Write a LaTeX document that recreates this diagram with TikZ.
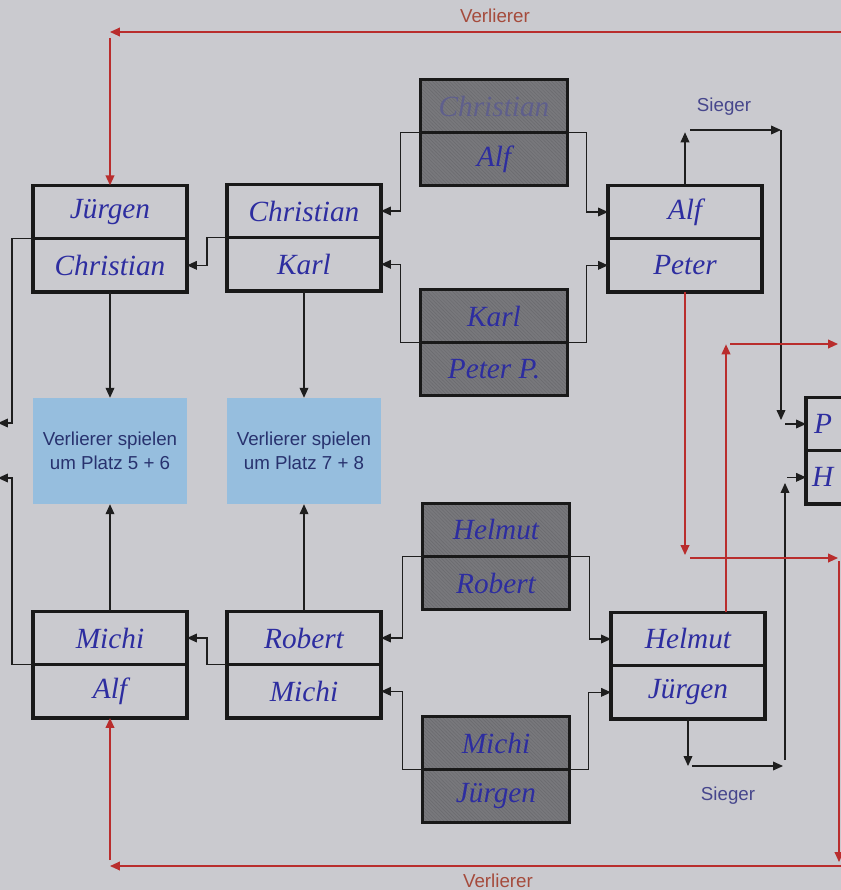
\documentclass[tikz,border=0pt]{standalone}
\usepackage{fontspec}
\setmainfont{Liberation Sans}
\newfontfamily\handfont{Liberation Serif}
\usetikzlibrary{positioning,calc,arrows.meta,patterns}

\definecolor{paper}{RGB}{202,202,207}
\definecolor{boxline}{RGB}{25,25,25}
\definecolor{ink}{RGB}{45,45,160}
\definecolor{faintink}{RGB}{95,95,140}
\definecolor{hatchgray}{RGB}{120,120,124}
\definecolor{hatchline}{RGB}{106,106,110}
\definecolor{infoblue}{RGB}{150,190,222}
\definecolor{infotext}{RGB}{40,50,110}
\definecolor{losered}{RGB}{185,45,45}
\definecolor{losetext}{RGB}{165,75,60}
\definecolor{wintext}{RGB}{70,70,140}
\definecolor{linkblack}{RGB}{30,30,30}

\begin{document}
\begin{tikzpicture}[x=0.03cm,y=-0.03cm,>={Triangle[length=8.5pt,width=7.5pt]},font=\fontsize{16}{20}\selectfont]
    \tikzset{
      hand/.style={font=\handfont\itshape\fontsize{25}{27}\selectfont, text=ink},
      slot/.style={hand, draw=boxline, line width=2.6pt, minimum width=4.62cm,
        minimum height=1.6cm, outer sep=0pt, inner sep=0pt},
      grayslot/.style={slot, minimum width=4.41cm, minimum height=1.59cm, fill=hatchgray,
        path picture={\fill[pattern=north west lines, pattern color=hatchline]
          (path picture bounding box.south west) rectangle (path picture bounding box.north east);}},
      infobox/.style={fill=infoblue, minimum width=4.62cm, minimum height=3.18cm,
        align=center, text=infotext},
      link/.style={->, draw=linkblack, line width=0.9pt},
      lose/.style={->, draw=losered, line width=1.2pt},
      tag/.style={font=\fontsize{16}{20}\selectfont}
    }
    % Frame
    \useasboundingbox (0,0) rectangle (841,890);
    \clip (0,0) rectangle (841,890);
    \fill[paper] (0,0) rectangle (841,890);

    % First round (gray)
    \node[grayslot, text=faintink] (g1a) at (494,106) {Christian};
    \node[grayslot, below=0pt of g1a] (g1b) {Alf};
    \node[grayslot] (g2a) at (494,316) {Karl};
    \node[grayslot, below=0pt of g2a] (g2b) {Peter P.};
    \node[grayslot] (g3a) at (496,530) {Helmut};
    \node[grayslot, below=0pt of g3a] (g3b) {Robert};
    \node[grayslot] (g4a) at (496,743) {Michi};
    \node[grayslot, below=0pt of g4a] (g4b) {Jürgen};

    % Left columns
    \node[slot] (a1) at (110,212) {Jürgen};
    \node[slot, below=0pt of a1] (a2) {Christian};
    \node[slot] (b1) at (304,211) {Christian};
    \node[slot, below=0pt of b1] (b2) {Karl};
    \node[infobox] (l1) at (110,451) {Verlierer spielen\\um Platz 5 + 6};
    \node[infobox] (l2) at (304,451) {Verlierer spielen\\um Platz 7 + 8};
    \node[slot] (d1) at (110,638) {Michi};
    \node[slot, below=0pt of d1] (d2) {Alf};
    \node[slot] (e1) at (304,638) {Robert};
    \node[slot, below=0pt of e1] (e2) {Michi};

    % Right columns
    \node[slot] (c1) at (685,212) {Alf};
    \node[slot, below=0pt of c1] (c2) {Peter};
    \node[slot] (f1) at (688,639) {Helmut};
    \node[slot, below=0pt of f1] (f2) {Jürgen};
    \node[slot] (p1) at (883,424) {};
    \node[slot, below=0pt of p1] (p2) {};
    \node[hand, anchor=west, inner sep=0pt] (p1t) at ($(p1.west)+(8,0)$) {P};
    \node[hand, anchor=west, inner sep=0pt] (p2t) at ($(p2.west)+(6,0)$) {H};

    % Labels
    \node[tag, text=losetext] (vtop) at (495,16) {Verlierer};
    \node[tag, text=losetext] (vbot) at (498,881) {Verlierer};
    \node[tag, text=wintext] (stop) at (724,107) {Sieger};
    \node[tag, text=wintext] (sbot) at (728,796) {Sieger};

    % Loose ends
    \coordinate (west1) at (-2,423);
    \coordinate (west2) at (-2,478);
    \coordinate (wt1) at (690,130);
    \coordinate (wt2) at (781,130);
    \coordinate (wt3) at (781,420);
    \coordinate (wb1) at (692,766);
    \coordinate (wb2) at (783,766);
    \coordinate (wb3) at (785,760);
    \coordinate (wb4) at (785,483);
    \coordinate (rt0) at (845,32);
    \coordinate (rt1) at (110,32);
    \coordinate (rt2) at (110,38);
    \coordinate (rc1) at (690,558);
    \coordinate (rc2) at (838,558);
    \coordinate (rf1) at (730,344);
    \coordinate (rf2) at (838,344);
    \coordinate (rr1) at (839,561);
    \coordinate (rr2) at (839,862);
    \coordinate (rb0) at (845,866);
    \coordinate (rb1) at (110,866);
    \coordinate (rb2) at (110,860);

    % Arrows: first round to second round
    \draw[link] (g1a.south west) -- ++(-20,0) |- (b1.east);
    \draw[link] (g1a.south east) -- ++(19,0) |- (c1.west);
    \draw[link] (g2a.south west) -- ++(-20,0) |- (b2.east);
    \draw[link] (g2a.south east) -- ++(19,0) |- (c2.west);
    \draw[link] (g3a.south west) -- ++(-20,0) |- (e1.east);
    \draw[link] (g3a.south east) -- ++(20,0) |- (f1.west);
    \draw[link] (g4a.south west) -- ++(-20,0) |- (e2.east);
    \draw[link] (g4a.south east) -- ++(19,0) |- (f2.west);

    % Arrows: left side
    \draw[link] (b2.north west) -- ++(-20,0) |- (a2.east);
    \draw[link] (e2.north west) -- ++(-20,0) |- (d1.east);
    \draw[link] (a2.north west) -- ++(-21,0) |- (west1);
    \draw[link] (d2.north west) -- ++(-21,0) |- (west2);
    \draw[link] (a2.south) -- (l1.north);
    \draw[link] (b2.south) -- (l2.north);
    \draw[link] (d1.north) -- (l1.south);
    \draw[link] (e1.north) -- (l2.south);

    % Arrows: winners
    \draw[link] (c1.north) -- ++(0,-53);
    \draw[link] (wt1) -- (wt2);
    \draw[link] (wt2) -- (wt3);
    \draw[link] ($(p1.west)+(-21,0)$) -- (p1.west);
    \draw[link] (f2.south) -- ++(0,47);
    \draw[link] (wb1) -- (wb2);
    \draw[link] (wb3) -- (wb4);
    \draw[link] ($(p2.west)+(-19,0)$) -- (p2.west);

    % Arrows: losers
    \draw[lose] (rt0) -- (rt1);
    \draw[lose] (rt2) -- (a1.north);
    \draw[lose] (c2.south) -- ++(0,263);
    \draw[lose] (rc1) -- (rc2);
    \draw[lose] ($(f1.north)+(38,0)$) -- ++(0,-268);
    \draw[lose] (rf1) -- (rf2);
    \draw[lose] (rr1) -- (rr2);
    \draw[lose] (rb0) -- (rb1);
    \draw[lose] (rb2) -- (d2.south);

  \end{tikzpicture}
\end{document}
